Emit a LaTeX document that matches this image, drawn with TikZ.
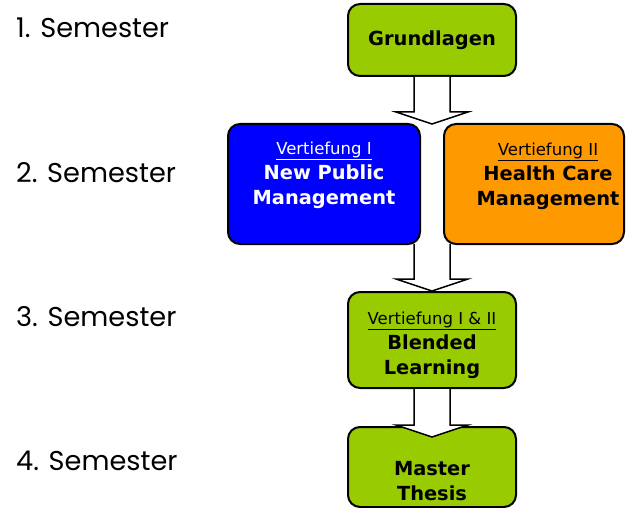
\documentclass[tikz,border=0pt]{standalone}
\usepackage{fontspec}
\usepackage{tikz}
\usetikzlibrary{calc}

\newfontfamily\boxfont{DejaVu Sans}
\newfontfamily\semfont{Poppins}

\definecolor{modgreen}{HTML}{99CC00}
\definecolor{modblue}{HTML}{0000FF}
\definecolor{modorange}{HTML}{FF9900}

\tikzset{
	module/.style={draw=black, line width=2pt, rounded corners=12pt, inner sep=0pt},
	fatarrow/.style={draw=black, fill=white, line width=1.5pt, line join=miter},
	boxtext/.style={align=center, inner sep=0pt, font=\boxfont\bfseries\fontsize{19.4}{25}\selectfont},
	semlabel/.style={anchor=base west, inner sep=0pt, font=\semfont\fontsize{27.2}{32}\selectfont}
}

% block arrow from one anchor down to another
\newcommand{\blockarrow}[2]{%
	\filldraw[fatarrow] ($(#1)+(-18,0)$) -- ($(#2)+(-18,-12)$) -- ($(#2)+(-36,-12)$) -- (#2)
		-- ($(#2)+(36,-12)$) -- ($(#2)+(18,-12)$) -- ($(#1)+(18,0)$);}

\begin{document}
\begin{tikzpicture}[x=1pt, y=-1pt]
	\useasboundingbox (0,0) rectangle (626,508);
	
	\node[semlabel] (sem1) at (16,38) {1. Semester};
	\node[semlabel] (sem2) at (16,182) {2. Semester};
	\node[semlabel] (sem3) at (16,326) {3. Semester};
	\node[semlabel] (sem4) at (16,470) {4. Semester};
	
	\node[module, fill=modgreen, minimum width=168pt, minimum height=72pt] (grund) at (432,40) {};
	\node[module, fill=modblue, minimum width=192pt, minimum height=120pt] (npm) at (324,184) {};
	\node[module, fill=modorange, minimum width=180pt, minimum height=120pt] (hcm) at (534,184) {};
	\node[module, fill=modgreen, minimum width=168pt, minimum height=96pt] (blend) at (432,340) {};
	\node[module, fill=modgreen, minimum width=168pt, minimum height=80pt] (thesis) at (432,467) {};
	
	\node[boxtext] (grundtxt) at (grund) {Grundlagen};
	\node[boxtext, text=white] (npmtxt) at (324,175) {{\mdseries\fontsize{16.5}{25}\selectfont\underline{Vertiefung I}}\\New Public\\Management};
	\node[boxtext] (hcmtxt) at (548,176) {{\mdseries\fontsize{16.5}{25}\selectfont\underline{Vertiefung II}}\\Health Care\\Management};
	\node[boxtext] (blendtxt) at (432,345) {{\mdseries\fontsize{16.5}{25}\selectfont\underline{Vertiefung I \& II}}\\Blended\\Learning};
	\node[boxtext] (thesistxt) at (432,481) {Master\\Thesis};
	
	\coordinate (split) at (432,244);
	\coordinate (thesistop) at (432,437);
	
	\blockarrow{grund.south}{432,124}
	\blockarrow{split}{blend.north}
	\blockarrow{blend.south}{thesistop}
\end{tikzpicture}
\end{document}
